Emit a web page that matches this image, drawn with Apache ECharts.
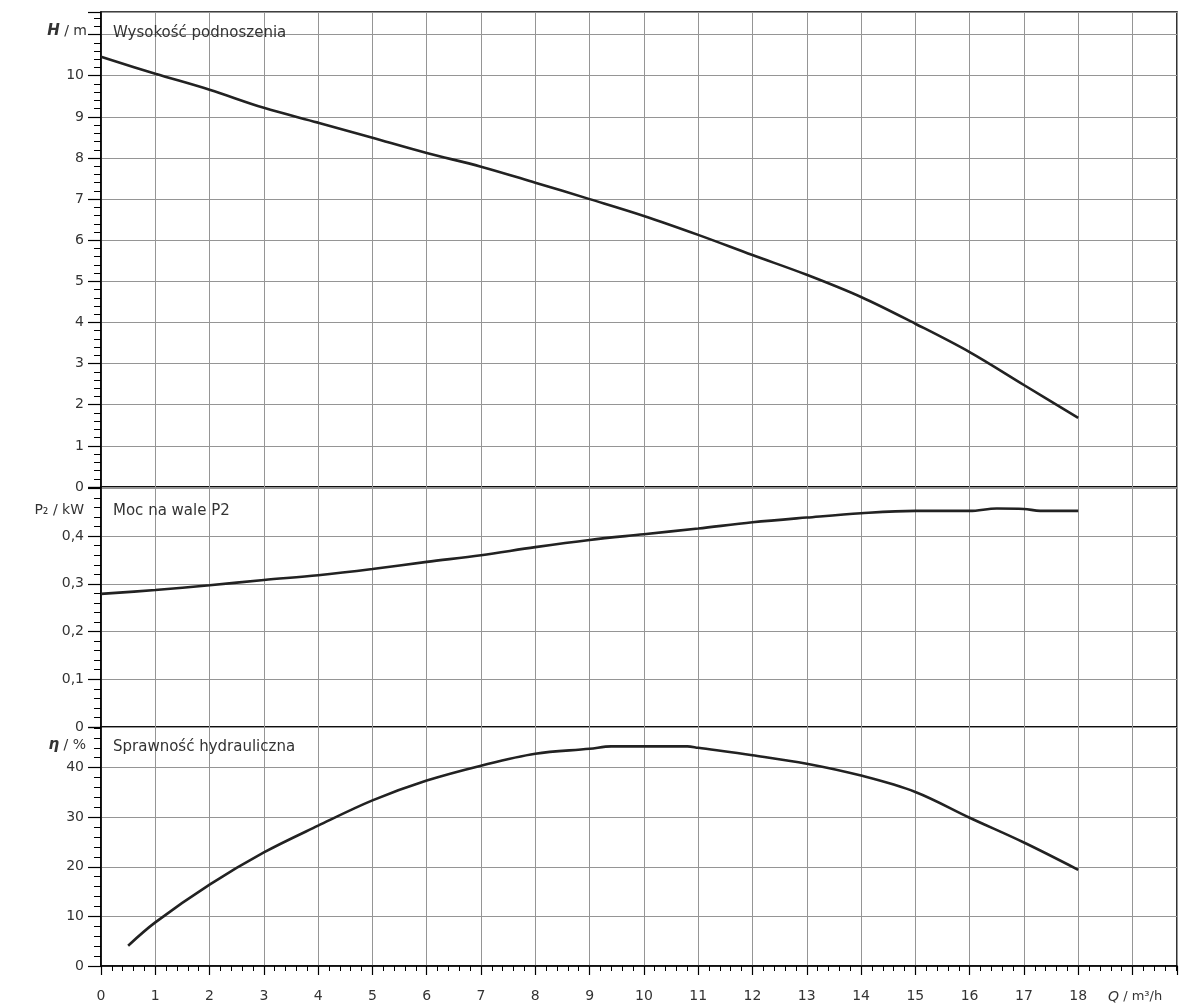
<!DOCTYPE html>
<html><head><meta charset="utf-8">
<script src="https://cdn.jsdelivr.net/npm/echarts@6/dist/echarts.min.js"></script>
<style>html,body{margin:0;padding:0;background:#fff}#c{width:1184px;height:1008px}</style>
</head><body><div id="c"></div>
<script>
// Flow Q (m3/h) for each curve
const qHead = [0,1,2,3,4,5,6,7,8,9,10,11,12,13,14,15,16,17,18];
const headH = [10.46,10.05,9.66,9.22,8.86,8.49,8.12,7.79,7.40,7.00,6.59,6.13,5.64,5.16,4.62,3.97,3.28,2.48,1.68];

const qPower = [0,1,2,3,4,5,6,7,8,9,10,11,12,13,14,15,16,16.5,17,17.3,18];
const powerP2 = [0.279,0.287,0.297,0.308,0.318,0.331,0.346,0.360,0.377,0.392,0.404,0.416,0.429,0.439,0.448,0.453,0.453,0.458,0.457,0.453,0.453];

const qEff = [0.5,1,2,3,4,5,6,7,8,9,9.4,10,10.8,11,12,13,14,15,16,17,18];
const effEta = [4.1,8.8,16.4,22.9,28.3,33.4,37.4,40.4,42.8,43.8,44.3,44.3,44.3,44.0,42.5,40.8,38.4,35.1,29.9,24.9,19.4];

const xTickLabels = ['0','1','2','3','4','5','6','7','8','9','10','11','12','13','14','15','16','17','18'];
const hTickLabels = ['0','1','2','3','4','5','6','7','8','9','10'];
const pTickLabels = ['0','0,1','0,2','0,3','0,4'];
const etaTickLabels = ['0','10','20','30','40'];

const panelTitles = ['Wysokość podnoszenia','Moc na wale P2','Sprawność hydrauliczna'];

const FONT = 'DejaVu Sans';
const TXT = '#333';
const GRIDC = '#959595';

function pairs(xs, ys){ return xs.map((x,i)=>[x, ys[i]]); }
function labelFrom(list, step){
  return function(v){
    const idx = Math.round(v/step);
    if (Math.abs(v - idx*step) > 1e-6) return '';
    return idx < list.length ? list[idx] : '';
  };
}

const chart = echarts.init(document.getElementById('c'), null, {renderer:'canvas'});

const grids = [
  {left:101, right:7, top:12, height:475},
  {left:101, right:7, top:487, height:240},
  {left:101, right:7, top:727, height:239}
].map(g => Object.assign(g, {show:true, borderColor:'#000', borderWidth:1.6, backgroundColor:'transparent'}));

function xAxisFor(i, showLabels){
  return {
    type:'value', gridIndex:i, min:0, max:19.82, interval:1,
    axisLine:{show:showLabels, onZero:false, lineStyle:{color:'#000', width:1.6}},
    axisTick:{show:showLabels, length:9, lineStyle:{color:'#000', width:1.2}},
    minorTick:{show:showLabels, splitNumber:5, length:5, lineStyle:{color:'#000', width:1}},
    axisLabel:{show:showLabels, margin:23, color:TXT, fontFamily:FONT, fontSize:14,
      formatter: labelFrom(xTickLabels, 1), showMaxLabel:false},
    splitLine:{show:true, lineStyle:{color:GRIDC, width:1}},
    minorSplitLine:{show:false}
  };
}
function yAxisFor(i, max, interval, labels){
  return {
    type:'value', gridIndex:i, min:0, max:max, interval:interval,
    axisLine:{show:true, lineStyle:{color:'#000', width:1.6}},
    axisTick:{show:true, length:13, lineStyle:{color:'#000', width:1.2}},
    minorTick:{show:true, splitNumber:5, length:7, lineStyle:{color:'#000', width:1}},
    axisLabel:{margin:17, color:TXT, fontFamily:FONT, fontSize:14,
      formatter: labelFrom(labels, interval), showMaxLabel:true, showMinLabel:true},
    splitLine:{show:true, lineStyle:{color:GRIDC, width:1}}
  };
}

const lineStyle = {color:'#222', width:2.6};
function lineSeries(i, data){
  return {type:'line', xAxisIndex:i, yAxisIndex:i, data:data, smooth:0.35,
    showSymbol:false, symbol:'none', lineStyle:lineStyle, silent:true, animation:false, z:5};
}

const titleStyle = {fontFamily:FONT, fontSize:15, fill:'#333'};

chart.setOption({
  animation:false,
  backgroundColor:'#fff',
  grid: grids,
  xAxis: [xAxisFor(0,false), xAxisFor(1,false), xAxisFor(2,true)],
  yAxis: [
    yAxisFor(0, 11.55, 1, hTickLabels),
    yAxisFor(1, 0.503, 0.1, pTickLabels),
    yAxisFor(2, 48.2, 10, etaTickLabels)
  ],
  series: [
    lineSeries(0, pairs(qHead, headH)),
    lineSeries(1, pairs(qPower, powerP2)),
    lineSeries(2, pairs(qEff, effEta))
  ],
  graphic: [
    {type:'text', x:113, y:33, z:10, style:Object.assign({text:panelTitles[0], textVerticalAlign:'middle'}, titleStyle)},
    {type:'text', x:113, y:511, z:10, style:Object.assign({text:panelTitles[1], textVerticalAlign:'middle'}, titleStyle)},
    {type:'text', x:113, y:747, z:10, style:Object.assign({text:panelTitles[2], textVerticalAlign:'middle'}, titleStyle)},
    {type:'text', x:87, y:31, z:10, style:{text:'{i|H} / m', textAlign:'right', textVerticalAlign:'middle',
      rich:{i:{fontFamily:FONT, fontSize:15, fontStyle:'italic', fontWeight:'bold', fill:'#333'}},
      fontFamily:FONT, fontSize:14, fill:'#333'}},
    {type:'text', x:84, y:510, z:10, style:{text:'P₂ / kW', textAlign:'right', textVerticalAlign:'middle',
      fontFamily:FONT, fontSize:14, fill:'#333'}},
    {type:'text', x:86, y:745, z:10, style:{text:'{i|η} / %', textAlign:'right', textVerticalAlign:'middle',
      rich:{i:{fontFamily:FONT, fontSize:15, fontStyle:'italic', fontWeight:'bold', fill:'#333'}},
      fontFamily:FONT, fontSize:14, fill:'#333'}},
    {type:'text', x:1108, y:997, z:10, style:{text:'{i|Q} / m³/h', textAlign:'left', textVerticalAlign:'middle',
      rich:{i:{fontFamily:FONT, fontSize:14, fontStyle:'italic', fill:'#333'}},
      fontFamily:FONT, fontSize:13, fill:'#333'}}
  ]
});
</script>
</body></html>
